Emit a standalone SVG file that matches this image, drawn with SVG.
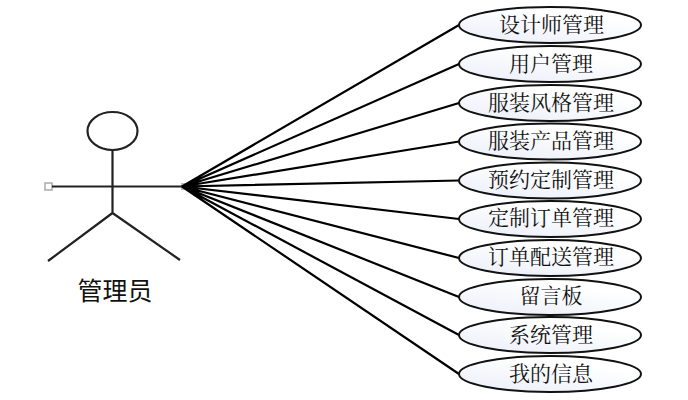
<svg xmlns="http://www.w3.org/2000/svg" width="688" height="400" viewBox="0 0 688 400">
<defs>
<linearGradient id="uc" x1="0.1" y1="1" x2="0.6" y2="0.2"><stop offset="0" stop-color="#ebeff9"/><stop offset="1" stop-color="#ffffff"/></linearGradient>
</defs>
<style>
.uc{fill:url(#uc);stroke:#111;stroke-width:2}
.t{font-family:"Noto Serif CJK SC","Noto Sans CJK SC",serif;font-size:21px;text-anchor:middle;fill:#111}
.c{fill:none;stroke:#000;stroke-width:2.2}
.a{fill:none;stroke:#222;stroke-width:2.2}
.h{fill:#fff;stroke:#aaa;stroke-width:1.5}
</style>
<rect width="688" height="400" fill="#fff"/>
<g id="actor">
<rect class="h" x="45" y="183" width="7" height="7"/>
<rect x="181" y="183" width="7" height="7" fill="#bbb"/>
<ellipse class="a" cx="112.500" cy="131" rx="25" ry="19"/>
<path class="a" d="M112.500 150V213M52 186.500H182M112.500 213L48 261M112.500 213L180 260"/>
<text x="115" y="300" font-family="'Noto Sans CJK SC',sans-serif" font-size="25" text-anchor="middle" fill="#111">管理员</text>
</g>
<g id="connectors">
<path class="c" d="M182 186.500L459 25M182 186.500L459 64M182 186.500L459 103M182 186.500L459 141.500M182 186.500L459 180.500M182 186.500L459 219M182 186.500L459 258M182 186.500L459 297M182 186.500L459 335M182 186.500L459 374"/>
</g>
<g id="uc1"><ellipse class="uc" cx="550" cy="25" rx="91" ry="18"/><text class="t" x="551.500" y="32">设计师管理</text></g>
<g id="uc2"><ellipse class="uc" cx="550" cy="64" rx="91" ry="18"/><text class="t" x="551" y="71">用户管理</text></g>
<g id="uc3"><ellipse class="uc" cx="550" cy="103" rx="91" ry="18"/><text class="t" x="551" y="110">服装风格管理</text></g>
<g id="uc4"><ellipse class="uc" cx="550" cy="141.500" rx="91" ry="18"/><text class="t" x="551" y="148">服装产品管理</text></g>
<g id="uc5"><ellipse class="uc" cx="550" cy="180.500" rx="91" ry="18"/><text class="t" x="551" y="187">预约定制管理</text></g>
<g id="uc6"><ellipse class="uc" cx="550" cy="219" rx="91" ry="18"/><text class="t" x="551" y="225">定制订单管理</text></g>
<g id="uc7"><ellipse class="uc" cx="550" cy="258" rx="91" ry="18"/><text class="t" x="551" y="264">订单配送管理</text></g>
<g id="uc8"><ellipse class="uc" cx="550" cy="297" rx="91" ry="18"/><text class="t" x="551" y="303">留言板</text></g>
<g id="uc9"><ellipse class="uc" cx="550" cy="335" rx="91" ry="18"/><text class="t" x="551" y="342">系统管理</text></g>
<g id="uc10"><ellipse class="uc" cx="550" cy="374" rx="91" ry="18"/><text class="t" x="551" y="381">我的信息</text></g>
</svg>
